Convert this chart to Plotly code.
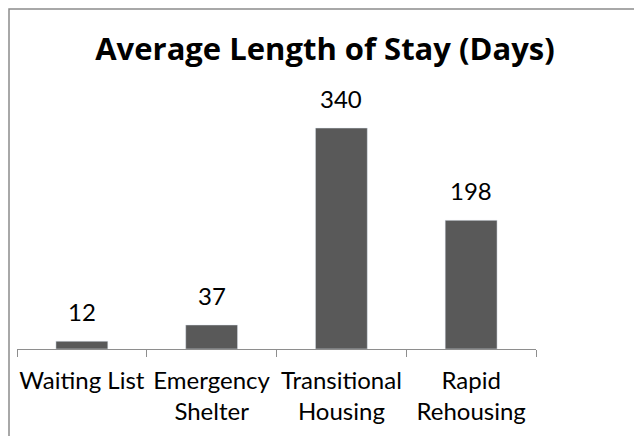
import plotly.graph_objects as go

categories = ["Waiting List", "Emergency<br>Shelter", "Transitional<br>Housing", "Rapid<br>Rehousing"]
days = [12, 37, 340, 198]

# page has an 8px body margin, so figure coords are offset by 8px
W, H = 642, 436
ml, mr, mt, mb = 9, 114, 81, 95

fig = go.Figure(go.Bar(
    x=categories, y=days,
    marker_color="#595959",
    width=0.4,
))

# value labels above the bars
for c, v in zip(categories, days):
    fig.add_annotation(x=c, y=v, text=str(v), showarrow=False,
                       yanchor="bottom", yshift=13,
                       font=dict(size=24, color="#000000"))

fig.update_layout(
    width=W, height=H,
    margin=dict(l=ml, r=mr, t=mt, b=mb, autoexpand=False),
    paper_bgcolor="white", plot_bgcolor="white",
    font=dict(family="Lato", color="#000000"),
    title=dict(text="<b>Average Length of Stay (Days)</b>",
               x=317 / W, xanchor="center",
               y=1 - 41 / H, yanchor="middle",
               font=dict(size=31, family="Open Sans")),
    showlegend=False,
)
fig.update_xaxes(
    showline=True, linecolor="#8e8e8e", linewidth=1,
    ticks="outside", tickson="boundaries", ticklen=7, tickcolor="#8e8e8e",
    tickfont=dict(size=24), tickangle=0, ticklabelstandoff=10,
    automargin=False, showgrid=False,
)
fig.update_yaxes(range=[0, 400], visible=False, showgrid=False)

# chart area border (top and left edges visible)
pw = W - ml - mr
ph = H - mt - mb
fig.add_shape(type="rect", xref="paper", yref="paper",
              x0=(1 - ml) / pw, x1=(W + 20 - ml) / pw,
              y0=-(H + 20 - mt - ph) / ph, y1=(H - mb - 1) / ph,
              line=dict(color="#8c8c8c", width=1.5), layer="below")

fig.write_html("out.html")
